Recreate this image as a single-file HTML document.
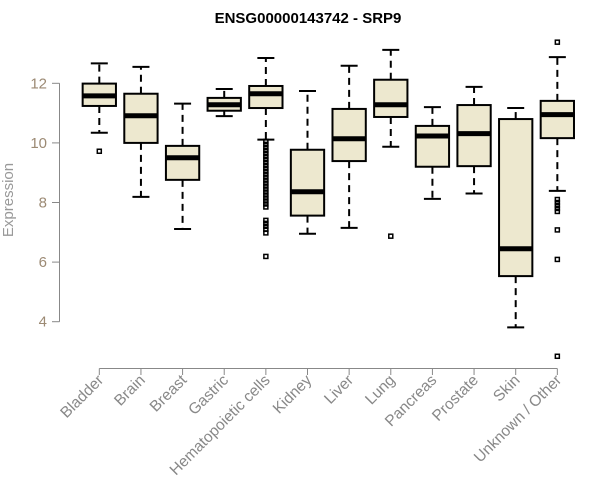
<!DOCTYPE html>
<html><head><meta charset="utf-8"><style>
body{margin:0;background:#fff}
svg{display:block;font-family:"Liberation Sans",Arial,sans-serif}
</style></head><body>
<svg id="chart" width="600" height="500">
<text x="308" y="23" text-anchor="middle" font-weight="bold" font-size="15">ENSG00000143742 - SRP9</text>
<text transform="translate(13,200) rotate(-90)" text-anchor="middle" font-size="15" fill="#999">Expression</text>
<g id="plot"></g>
</svg>
<script>
const categories=["Bladder","Brain","Breast","Gastric","Hematopoietic cells","Kidney","Liver","Lung","Pancreas","Prostate","Skin","Unknown / Other"];
const whiskLo=[10.34,8.19,7.11,10.9,10.11,6.95,7.15,9.87,8.12,8.3,3.81,8.39];
const q1=[11.24,10.0,8.76,11.08,11.17,7.56,9.39,10.87,9.2,9.22,5.53,10.16];
const medians=[11.58,10.91,9.5,11.28,11.65,8.36,10.14,11.28,10.23,10.31,6.45,10.95];
const q3=[11.99,11.65,9.9,11.51,11.91,9.77,11.14,12.12,10.57,11.27,10.8,11.41];
const whiskHi=[12.67,12.55,11.32,11.81,12.85,11.74,12.59,13.12,11.2,11.88,11.17,12.88];
const outliers=[[9.72],[],[],[],[10.05,9.95,9.85,9.75,9.65,9.55,9.45,9.35,9.25,9.15,9.05,8.95,8.85,8.75,8.65,8.55,8.45,8.35,8.25,8.15,8.05,7.95,7.85,7.4,7.3,7.2,7.1,6.98,6.19],[],[],[6.87],[],[],[],[13.38,8.1,8.0,7.9,7.8,7.7,7.08,6.09,2.84]];
const yTicks=[4,6,8,10,12];

const NS="http://www.w3.org/2000/svg";
const g=document.getElementById('plot');
const y=v=>83.3+(12-v)*29.8;
const x=i=>99.3+i*41.64;
const bw=33.3;
function mk(t,a){const e=document.createElementNS(NS,t);for(const k in a)e.setAttribute(k,a[k]);g.appendChild(e);return e;}

let e=mk('line',{x1:59.5,x2:59.5,y1:y(yTicks[0]),y2:y(yTicks[yTicks.length-1]),stroke:'#888'});


yTicks.forEach(t=>{
  let l=mk('line',{x1:52,x2:59.5,y1:y(t),y2:y(t),stroke:'#888'});
  
  
  let tx=mk('text',{x:47,y:y(t)+5,'text-anchor':'end','font-size':15,fill:'#9c8a74'});
  tx.textContent=t;
  
  
});
e=mk('line',{x1:x(0),x2:x(categories.length-1),y1:368.5,y2:368.5,stroke:'#888'});



categories.forEach((c,i)=>{
  const cx=x(i);
  let l=mk('line',{x1:cx,x2:cx,y1:368.5,y2:375,stroke:'#888'});
  
  
  let tx=mk('text',{'text-anchor':'end','font-size':15.5,fill:'#888',transform:`translate(${cx+5},${381}) rotate(-45)`});
  tx.textContent=c;
  
  
  let w1=mk('line',{x1:cx,x2:cx,y1:y(q3[i]),y2:y(whiskHi[i]),stroke:'#000','stroke-width':2,'stroke-dasharray':'7,5'});
  
  
  let w2=mk('line',{x1:cx,x2:cx,y1:y(q1[i]),y2:y(whiskLo[i]),stroke:'#000','stroke-width':2,'stroke-dasharray':'7,5'});
  
  
  let c1=mk('line',{x1:cx-8.5,x2:cx+8.5,y1:y(whiskHi[i]),y2:y(whiskHi[i]),stroke:'#000','stroke-width':2});
  
  
  let c2=mk('line',{x1:cx-8.5,x2:cx+8.5,y1:y(whiskLo[i]),y2:y(whiskLo[i]),stroke:'#000','stroke-width':2});
  
  
  let b=mk('rect',{x:cx-bw/2,y:y(q3[i]),width:bw,height:y(q1[i])-y(q3[i]),fill:'#ede8cf',stroke:'#000','stroke-width':2});
  
  
  let m=mk('line',{x1:cx-bw/2,x2:cx+bw/2,y1:y(medians[i]),y2:y(medians[i]),stroke:'#000','stroke-width':5});
  
  
  outliers[i].forEach(v=>{
    let o=mk('rect',{x:cx-2,y:y(v)-2,width:4,height:4,fill:'none',stroke:'#000','stroke-width':1.5});
    
    
  });
});
</script>
</body></html>
